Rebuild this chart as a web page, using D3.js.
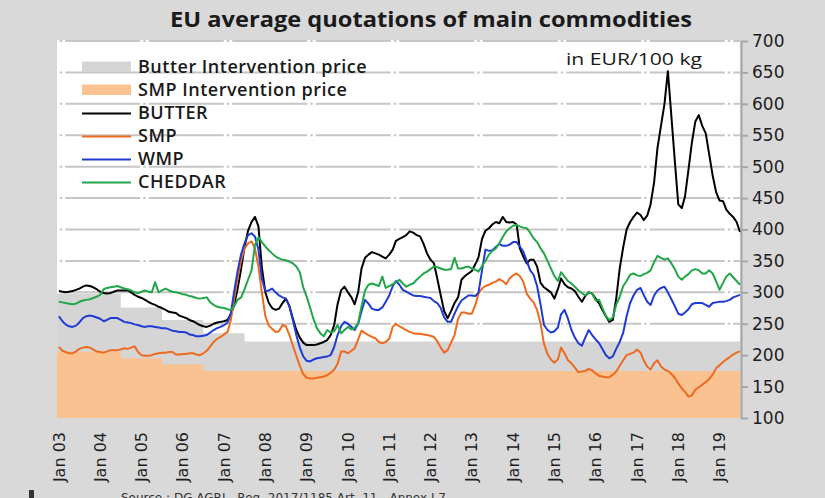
<!DOCTYPE html>
<html><head><meta charset="utf-8">
<script src="https://cdn.jsdelivr.net/npm/d3@7"></script>
<style>body{margin:0;background:#d9d9d9;}svg{display:block;}</style>
</head><body>
<script>
// ---- DATA (monthly, Jan 2003 .. Jul 2019, EUR/100kg) ----
const startYear = 2003;
const yearLabels = ["Jan 03","Jan 04","Jan 05","Jan 06","Jan 07","Jan 08","Jan 09","Jan 10","Jan 11","Jan 12","Jan 13","Jan 14","Jan 15","Jan 16","Jan 17","Jan 18","Jan 19"];
const yTicks = [100,150,200,250,300,350,400,450,500,550,600,650,700];

const butter = [302,301,300,301,302,304,306,309,311,310,308,305,
 301,299,298,299,301,303,303,303,303,300,296,293,
 291,288,285,282,280,277,275,272,269,268,267,263,
 261,259,256,254,251,248,246,245,247,250,252,253,
 254,256,265,280,306,338,372,398,412,420,405,340,
 300,283,275,272,274,283,290,278,258,240,228,220,
 216,216,216,217,219,221,224,232,248,281,303,309,
 300,292,281,300,338,355,360,364,362,360,357,354,
 360,368,382,385,388,391,397,395,391,389,377,362,
 352,346,322,295,270,259,270,283,292,320,326,330,
 334,345,356,385,398,402,408,412,410,420,412,411,
 412,408,370,357,346,352,352,341,315,308,304,300,
 290,305,322,313,308,306,302,293,285,294,300,298,
 290,282,272,262,253,256,290,338,372,400,412,420,
 427,423,415,422,440,475,530,565,600,652,580,510,
 440,434,452,495,538,572,582,565,553,520,486,460,
 446,445,432,425,420,412,396];

const smp = [213,207,205,203,203,206,210,212,213,212,209,206,
 205,204,206,208,208,208,209,211,210,212,214,205,
 200,199,199,200,202,203,204,204,205,205,201,201,
 202,202,203,203,201,200,203,207,214,221,226,229,
 233,237,255,290,323,351,370,378,381,370,341,300,
 262,247,242,237,238,248,246,232,215,199,183,170,
 164,163,163,164,165,166,168,172,177,186,206,206,
 203,207,211,225,239,235,232,229,227,221,219,221,
 226,245,250,246,243,240,237,235,234,234,233,232,
 231,229,222,212,204,208,220,232,258,268,268,266,
 266,280,298,306,310,312,315,317,321,318,313,322,
 327,330,326,317,298,290,284,272,250,218,202,193,
 188,193,212,203,192,187,180,173,174,175,178,176,
 171,167,166,165,165,169,174,183,192,200,202,204,
 209,204,192,182,177,187,192,182,177,175,170,164,
 155,147,142,134,136,145,149,153,157,162,169,179,
 184,189,193,197,201,204,206];

const wmp = [262,254,249,246,245,247,252,259,262,263,262,260,
 258,254,256,259,259,259,256,253,252,251,249,248,
 246,245,246,246,245,244,243,243,241,239,238,237,
 237,236,233,232,230,230,231,232,236,240,243,245,
 248,252,266,302,334,361,378,391,394,389,368,322,
 302,303,306,300,295,292,290,278,255,232,212,198,
 191,190,193,195,196,197,198,200,213,232,246,253,
 250,245,240,250,270,288,282,274,272,272,276,285,
 295,310,318,312,304,301,298,295,294,294,293,292,
 291,286,283,275,260,253,253,266,278,287,291,295,
 295,294,300,335,368,366,367,372,377,374,374,376,
 380,380,373,365,350,335,328,310,280,248,240,236,
 238,244,265,272,258,240,228,219,215,228,240,232,
 225,219,210,200,195,198,210,221,236,262,283,295,
 304,307,296,285,280,295,303,307,309,300,289,278,
 266,264,268,273,281,283,283,283,280,277,283,284,
 285,285,286,288,292,294,296];

const cheddar = [285,284,283,282,281,282,285,287,288,289,291,293,
 296,305,307,308,309,310,308,306,305,303,300,299,
 301,303,301,300,316,300,303,306,303,301,300,299,
 297,296,294,293,291,290,291,292,284,280,277,276,
 275,273,272,278,288,292,305,320,335,375,388,380,
 373,367,362,357,354,352,351,349,346,341,332,308,
 293,275,258,243,235,230,240,236,238,248,235,240,
 245,241,243,251,278,303,312,314,312,310,325,307,
 310,313,316,320,314,309,312,314,320,325,330,333,
 337,341,340,338,336,336,337,355,338,338,340,341,
 338,336,333,342,350,360,366,370,378,388,397,402,
 406,407,405,403,402,395,386,380,370,362,350,338,
 326,318,332,325,318,314,309,303,299,295,300,298,
 287,288,275,262,256,260,280,293,310,318,328,330,
 327,326,329,331,335,348,358,355,352,354,346,337,
 325,320,325,329,335,337,335,330,330,335,330,318,
 304,315,325,330,324,318,312];

// Intervention (buying-in) prices, step changes
const butterIntDates = ["2002-12-15","2004-07-01","2005-07-01","2006-07-01","2007-07-01","2019-07-01"];
const butterIntValues = [298,276,256,235,221.75,221.75];
const smpIntDates = ["2002-12-15","2004-07-01","2005-07-01","2006-07-01","2019-07-01"];
const smpIntValues = [205.52,195.24,184.97,174.69,174.69];

const seriesNames = ["BUTTER","SMP","WMP","CHEDDAR"];
const seriesColors = ["#000000","#ee6a1e","#1f3bd4","#22a64a"];

(function(){
const W = 825, H = 498;
const svg = d3.select("body").append("svg").attr("width", W).attr("height", H);
svg.append("rect").attr("width", W).attr("height", H).attr("fill", "#d9d9d9");

const pL = 57, pR = 740, pT = 41, pB = 418;
const x = d3.scaleTime().domain([new Date(2002,11,15), new Date(2019,6,1)]).range([pL, pR]);
const y = d3.scaleLinear().domain([100,700]).range([pB, pT]);

svg.append("rect").attr("x", pL).attr("y", 40).attr("width", pR-pL).attr("height", pB-40).attr("fill", "#ffffff");

// gridlines
svg.append("g").selectAll("line").data(yTicks.filter(v => v > 100)).join("line")
  .attr("x1", pL).attr("x2", pR)
  .attr("y1", d => y(d)).attr("y2", d => y(d))
  .attr("stroke", "#c6c6c6").attr("stroke-width", 2)
  .attr("stroke-dasharray", "75,3,2.5,3").attr("stroke-dashoffset", 75.25);

// intervention areas
const parse = d3.timeParse("%Y-%m-%d");
const bInt = butterIntDates.map((d,i) => ({d: parse(d), v: butterIntValues[i]}));
const sInt = smpIntDates.map((d,i) => ({d: parse(d), v: smpIntValues[i]}));
const area = d3.area().curve(d3.curveStepAfter).x(p => x(p.d)).y0(y(100)).y1(p => y(p.v));
svg.append("path").attr("d", area(bInt)).attr("fill", "#d5d5d5");
svg.append("path").attr("d", area(sInt)).attr("fill", "#fac191");

// lines
const allSeries = [butter, smp, wmp, cheddar];
const line = d3.line().x((v,i) => x(new Date(startYear, i, 1))).y(v => y(v));
allSeries.forEach((s, k) => {
  svg.append("path").attr("d", line(s)).attr("fill", "none")
    .attr("stroke", seriesColors[k]).attr("stroke-width", 2).attr("stroke-linejoin", "round");
});

// right axis
const axisG = svg.append("g").attr("transform", `translate(${pR+1},0)`);
const axis = d3.axisRight(y).tickValues(yTicks).tickSize(7).tickPadding(4).tickSizeOuter(0);
axisG.call(axis);
axisG.select(".domain").attr("stroke", "#a6a6a6").attr("stroke-width", 2);
axisG.selectAll(".tick line").attr("stroke", "#a6a6a6").attr("stroke-width", 2);
axisG.selectAll(".tick text").attr("font-family", "DejaVu Sans").attr("font-size", 17).attr("fill", "#1e1e1e");

// x labels
svg.append("g").selectAll("text").data(yearLabels).join("text")
  .attr("transform", (d,i) => `translate(${x(new Date(startYear+i,0,1))},432) rotate(-90)`)
  .attr("text-anchor", "end").attr("dy", "0.35em")
  .attr("font-family", "DejaVu Sans").attr("font-size", 16).attr("fill", "#1e1e1e")
  .text(d => d);

// title
svg.append("text").attr("x", 431).attr("y", 27).attr("text-anchor", "middle")
  .attr("font-family", "Open Sans").attr("font-weight", 700).attr("font-size", 22).attr("fill", "#1a1a1a")
  .attr("textLength", 522).attr("lengthAdjust", "spacingAndGlyphs")
  .text("EU average quotations of main commodities");

svg.append("text").attr("x", 566).attr("y", 65)
  .attr("font-family", "Open Sans").attr("font-weight", 400).attr("font-size", 17).attr("fill", "#1a1a1a")
  .attr("textLength", 136).attr("lengthAdjust", "spacingAndGlyphs")
  .text("in EUR/100 kg");

// legend
const legendItems = [
  {name: "Butter Intervention price", type: "rect", color: "#d5d5d5"},
  {name: "SMP Intervention price", type: "rect", color: "#fac191"},
  ...seriesNames.map((n,k) => ({name: n, type: "line", color: seriesColors[k]}))
];
const lg = svg.append("g");
legendItems.forEach((it, i) => {
  const by = 73 + i*23;
  if (it.type === "rect") {
    lg.append("rect").attr("x", 82).attr("y", by-11.5).attr("width", 49).attr("height", 10.5).attr("fill", it.color);
  } else {
    lg.append("line").attr("x1", 82).attr("x2", 131).attr("y1", by-5.5).attr("y2", by-5.5)
      .attr("stroke", it.color).attr("stroke-width", 2);
  }
  lg.append("text").attr("x", 138).attr("y", by)
    .attr("font-family", "Open Sans").attr("font-weight", 600).attr("font-size", 18)
    .attr("letter-spacing", 0.5).attr("fill", "#1a1a1a").text(it.name);
});

// source (cut at bottom, as in the reference)
svg.append("rect").attr("x", 29).attr("y", 490).attr("width", 5).attr("height", 8).attr("fill", "#333");
svg.append("text").attr("x", 121).attr("y", 502)
  .attr("font-family", "DejaVu Sans").attr("font-size", 12).attr("fill", "#333")
  .text("Source : DG AGRI - Reg. 2017/1185 Art. 11 - Annex I.7");
})();
</script>
</body></html>
